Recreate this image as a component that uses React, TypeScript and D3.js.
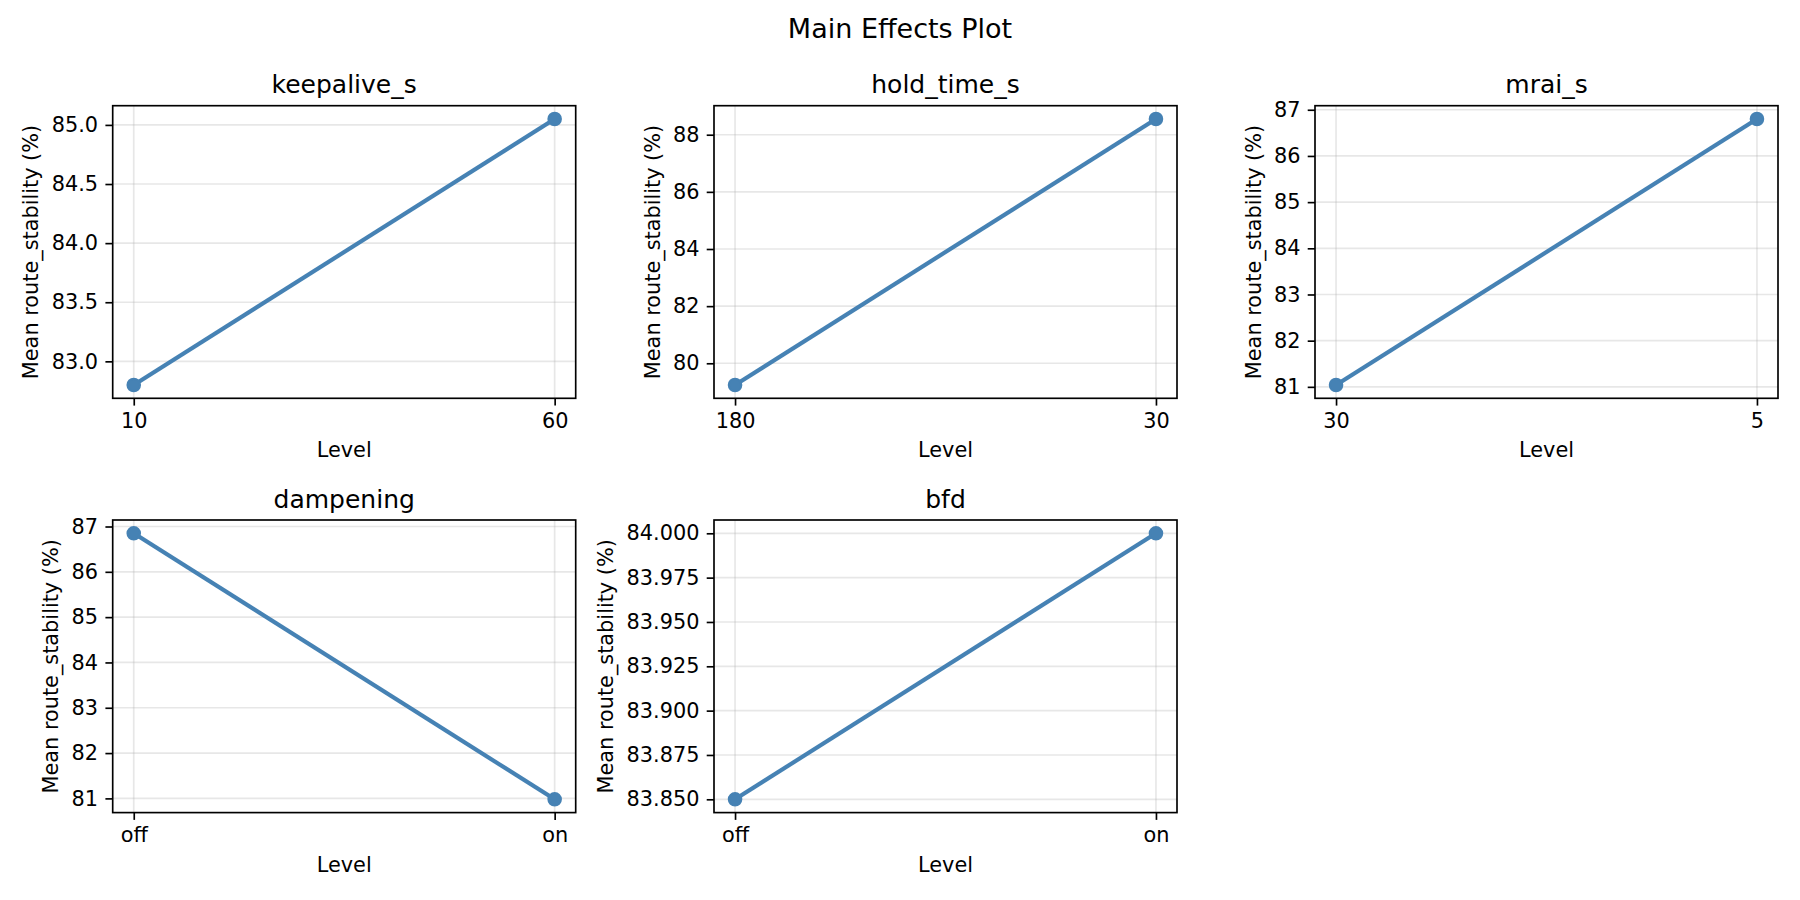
import React, { useEffect, useRef } from 'react';
import * as d3 from 'd3';

// Factors and their levels (level order as on the x axis)
const factorNames = ['keepalive_s', 'hold_time_s', 'mrai_s', 'dampening', 'bfd'];
const factorLevels = [
  ['10', '60'],
  ['180', '30'],
  ['30', '5'],
  ['off', 'on'],
  ['off', 'on'],
];

// Mean route_stability (%) per level
const meanStability = [
  [82.8, 85.05],
  [79.24, 88.55],
  [81.04, 86.8],
  [86.85, 80.98],
  [83.85, 84.0],
];

// Y tick labels per panel
const yTickLabels = [
  ['83.0', '83.5', '84.0', '84.5', '85.0'],
  ['80', '82', '84', '86', '88'],
  ['81', '82', '83', '84', '85', '86', '87'],
  ['81', '82', '83', '84', '85', '86', '87'],
  ['83.850', '83.875', '83.900', '83.925', '83.950', '83.975', '84.000'],
];

const W = 1800;
const H = 900;
const PT = 150 / 72;
const FONT = 'DejaVu Sans, sans-serif';

const App: React.FC = () => {
  const ref = useRef<SVGSVGElement>(null);

  useEffect(() => {
    if (!ref.current) return;
    const svg = d3.select(ref.current);
    svg.selectAll('*').remove();

    svg.append('rect').attr('width', W).attr('height', H).attr('fill', '#fff');

    // figure title
    svg.append('text')
      .attr('x', W / 2)
      .attr('y', 37.5)
      .attr('text-anchor', 'middle')
      .style('font-family', FONT)
      .style('font-size', '27px')
      .text('Main Effects Plot');

    // grid of axes positions (3 columns x 2 rows)
    const colLeft = [112.7, 714, 1315];
    const rowTop = [105.7, 520];
    const panelW = 463;
    const panelH = 292.6;
    const tickLen = 3.5 * PT;
    const tickPad = 3.5 * PT;

    factorNames.forEach((name, i) => {
      const col = i % 3;
      const row = Math.floor(i / 3);
      const g = svg.append('g').attr('transform', `translate(${colLeft[col]},${rowTop[row]})`);

      const values = meanStability[i];
      const levels = factorLevels[i];
      const ticks = yTickLabels[i].map(Number);

      const x = d3.scaleLinear().domain([-0.05, levels.length - 1 + 0.05]).range([0, panelW]);
      const [lo, hi] = d3.extent(values) as [number, number];
      const m = (hi - lo) * 0.05;
      const y = d3.scaleLinear().domain([lo - m, hi + m]).range([panelH, 0]);

      // grid lines
      g.append('g')
        .selectAll('line')
        .data(ticks)
        .join('line')
        .attr('x1', 0)
        .attr('x2', panelW)
        .attr('y1', d => y(d))
        .attr('y2', d => y(d))
        .attr('stroke', '#b0b0b0')
        .attr('stroke-opacity', 0.3)
        .attr('stroke-width', 0.8 * PT);

      g.append('g')
        .selectAll('line')
        .data(levels)
        .join('line')
        .attr('x1', (_, j) => x(j))
        .attr('x2', (_, j) => x(j))
        .attr('y1', 0)
        .attr('y2', panelH)
        .attr('stroke', '#b0b0b0')
        .attr('stroke-opacity', 0.3)
        .attr('stroke-width', 0.8 * PT);

      // main effect line
      const line = d3.line<number>().x((_, j) => x(j)).y(d => y(d));
      g.append('path')
        .attr('d', line(values)!)
        .attr('fill', 'none')
        .attr('stroke', '#4682b4')
        .attr('stroke-width', 2 * PT);

      g.append('g')
        .selectAll('circle')
        .data(values)
        .join('circle')
        .attr('cx', (_, j) => x(j))
        .attr('cy', d => y(d))
        .attr('r', 3 * PT)
        .attr('fill', '#4682b4')
        .attr('stroke', '#4682b4')
        .attr('stroke-width', 1 * PT);

      // y axis
      const yAxisG = g.append('g').call(
        d3.axisLeft(y)
          .tickValues(ticks)
          .tickFormat((_, k) => yTickLabels[i][k])
          .tickSize(tickLen)
          .tickPadding(tickPad)
      );
      // x axis
      const xAxisG = g.append('g')
        .attr('transform', `translate(0,${panelH})`)
        .call(
          d3.axisBottom(x)
            .tickValues(levels.map((_, j) => j))
            .tickFormat((_, k) => levels[k])
            .tickSize(tickLen)
            .tickPadding(tickPad)
        );

      [yAxisG, xAxisG].forEach(ax => {
        ax.select('.domain').remove();
        ax.attr('font-family', null).attr('font-size', null);
        ax.selectAll('line').attr('stroke', '#000').attr('stroke-width', 0.8 * PT);
        ax.selectAll('text')
          .attr('fill', '#000')
          .style('font-family', FONT)
          .style('font-size', `${10 * PT}px`);
      });

      // frame
      g.append('rect')
        .attr('width', panelW)
        .attr('height', panelH)
        .attr('fill', 'none')
        .attr('stroke', '#000')
        .attr('stroke-width', 0.8 * PT);

      // title
      g.append('text')
        .attr('x', panelW / 2)
        .attr('y', -6 * PT)
        .attr('text-anchor', 'middle')
        .style('font-family', FONT)
        .style('font-size', `${12 * PT}px`)
        .text(name);

      // x label
      g.append('text')
        .attr('x', panelW / 2)
        .attr('y', panelH + 59)
        .attr('text-anchor', 'middle')
        .style('font-family', FONT)
        .style('font-size', `${10 * PT}px`)
        .text('Level');

      // y label, placed left of the widest tick label
      const bb = (yAxisG.node() as SVGGElement).getBBox();
      const lx = bb.x - 4 * PT - 4.9;
      g.append('text')
        .attr('transform', `translate(${lx},${panelH / 2}) rotate(-90)`)
        .attr('text-anchor', 'middle')
        .style('font-family', FONT)
        .style('font-size', `${10 * PT}px`)
        .text('Mean route_stability (%)');
    });
  }, []);

  return (
    <svg
      ref={ref}
      width={W}
      height={H}
      style={{ position: 'absolute', left: 0, top: 0, display: 'block' }}
    />
  );
};

export default App;
